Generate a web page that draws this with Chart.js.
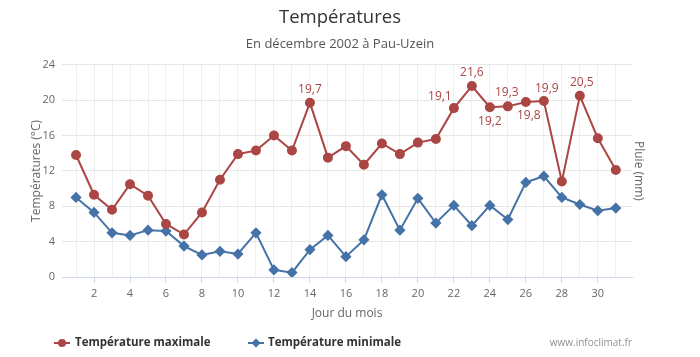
<!DOCTYPE html>
<html><head><meta charset="utf-8">
<script src="https://cdn.jsdelivr.net/npm/chart.js@4/dist/chart.umd.min.js"></script>
<style>html,body{margin:0;padding:0;background:#fff}canvas{display:block}</style>
</head><body>
<canvas id="c" width="700" height="357"></canvas>
<script>
// ---- data ----
const days = [1,2,3,4,5,6,7,8,9,10,11,12,13,14,15,16,17,18,19,20,21,22,23,24,25,26,27,28,29,30,31];
const tempMax = [13.8,9.3,7.6,10.5,9.2,6.0,4.8,7.3,11.0,13.9,14.3,16.0,14.3,19.7,13.5,14.8,12.7,15.1,13.9,15.2,15.6,19.1,21.6,19.2,19.3,19.8,19.9,10.8,20.5,15.7,12.1];
const tempMin = [9.0,7.3,5.0,4.7,5.3,5.2,3.5,2.5,2.9,2.6,5.0,0.8,0.5,3.1,4.7,2.3,4.2,9.3,5.3,8.9,6.1,8.1,5.8,8.1,6.5,10.7,11.4,9.0,8.2,7.5,7.8];
const xTickLabels = ['2','4','6','8','10','12','14','16','18','20','22','24','26','28','30'];
const yTicks = [0,4,8,12,16,20,24];
const seriesNames = ['Température maximale','Température minimale'];

// ---- styles ----
const RED = '#AA4643', BLUE = '#4572A7';
const FONT = "'Open Sans', sans-serif";
Chart.defaults.font.family = FONT;
// label placement (pixel offsets from the point) for labelled values
const labelOffsets = {14:[0,-13],22:[-14,-12],23:[0,-13],24:[0,14],25:[-1,-14],26:[3,14],27:[3,-12],29:[2,-13]};

const labelPlugin = {
  id: 'valueLabels',
  afterDatasetsDraw(chart) {
    const ctx = chart.ctx;
    const meta = chart.getDatasetMeta(0);
    ctx.save();
    ctx.font = '12px ' + FONT;
    ctx.fillStyle = RED;
    ctx.textAlign = 'center';
    ctx.textBaseline = 'middle';
    tempMax.forEach((v, i) => {
      const off = labelOffsets[days[i]];
      if (!off) return;
      const p = meta.data[i];
      ctx.fillText(v.toFixed(1).replace('.', ','), p.x + off[0], p.y + off[1]);
    });
    ctx.restore();
  }
};

function drawSymbol(ctx, x, y, color, style) {
  ctx.strokeStyle = color; ctx.lineWidth = 2;
  ctx.beginPath(); ctx.moveTo(x - 8, y); ctx.lineTo(x + 8, y); ctx.stroke();
  ctx.fillStyle = color; ctx.beginPath();
  if (style === 'circle') { ctx.arc(x, y, 4, 0, Math.PI * 2); }
  else { ctx.moveTo(x, y - 4.5); ctx.lineTo(x + 4.5, y); ctx.lineTo(x, y + 4.5); ctx.lineTo(x - 4.5, y); ctx.closePath(); }
  ctx.fill();
}

const legendPlugin = {
  id: 'bottomLegend',
  afterDraw(chart) {
    const ctx = chart.ctx;
    ctx.save();
    const y = 343;
    ctx.font = 'bold 11.5px ' + FONT;
    ctx.textBaseline = 'middle';
    ctx.textAlign = 'left';
    drawSymbol(ctx, 62, y, RED, 'circle');
    ctx.fillStyle = '#333';
    ctx.fillText(chart.data.datasets[0].label, 75, y);
    drawSymbol(ctx, 256, y, BLUE, 'diamond');
    ctx.fillStyle = '#333';
    ctx.fillText(chart.data.datasets[1].label, 268, y);
    ctx.font = '10px ' + FONT;
    ctx.fillStyle = '#909090';
    ctx.textAlign = 'right';
    ctx.fillText('www.infoclimat.fr', 632, y);
    ctx.restore();
  }
};

new Chart(document.getElementById('c'), {
  type: 'line',
  data: {
    datasets: [
      { label: seriesNames[0], data: days.map((d, i) => ({x: d, y: tempMax[i]})),
        borderColor: RED, backgroundColor: RED, borderWidth: 2,
        pointStyle: 'circle', pointRadius: 4, pointHoverRadius: 4, tension: 0 },
      { label: seriesNames[1], data: days.map((d, i) => ({x: d, y: tempMin[i]})),
        borderColor: BLUE, backgroundColor: BLUE, borderWidth: 2,
        pointStyle: 'rectRot', pointRadius: 4.2, pointHoverRadius: 4.2, tension: 0 }
    ]
  },
  options: {
    responsive: false, animation: false, devicePixelRatio: 1,
    layout: { padding: { left: 0, right: 20, top: 0, bottom: 35 } },
    plugins: {
      legend: { display: false },
      tooltip: { enabled: false },
      title: { display: true, text: 'Températures', color: '#333',
        font: { size: 18.5, weight: 'normal', family: FONT }, padding: { top: 7, bottom: 0 } },
      subtitle: { display: true, text: 'En décembre 2002 à Pau-Uzein', color: '#555',
        font: { size: 13, family: FONT }, padding: { top: 7, bottom: 13 } }
    },
    scales: {
      x: {
        type: 'linear', min: 0.22, max: 31.9,
        afterBuildTicks: s => { s.ticks = days.map(d => ({ value: d })); },
        afterFit: s => { s.height = 45; },
        ticks: { autoSkip: false, maxRotation: 0, color: '#666', font: { size: 11 }, padding: 4,
          callback: v => xTickLabels.includes(String(v)) ? String(v) : '' },
        grid: { color: '#efefef', lineWidth: 1, tickLength: 6,
          tickColor: c => (c.tick && c.tick.value % 2 === 0) ? '#ccd6eb' : 'rgba(0,0,0,0)' },
        border: { display: true, color: '#ccd6eb' },
        title: { display: true, text: 'Jour du mois', color: '#666', font: { size: 12 }, padding: { top: 4, bottom: 1 } }
      },
      y: {
        position: 'left', min: 0, max: 24,
        afterBuildTicks: s => { s.ticks = yTicks.map(v => ({ value: v })); },
        afterFit: s => { s.width = 62; },
        ticks: { color: '#666', font: { size: 11 }, padding: 7 },
        grid: { color: '#e6e6e6', drawTicks: false },
        border: { display: false },
        title: { display: true, text: 'Températures (°C)', color: '#666', font: { size: 12 }, padding: { top: 29, bottom: 0 } }
      },
      y1: {
        position: 'right', min: 0, max: 24,
        afterFit: s => { s.width = 48; },
        ticks: { display: false },
        grid: { display: false, drawTicks: false },
        border: { display: false },
        title: { display: true, text: 'Pluie (mm)', color: '#666', font: { size: 12 }, padding: { top: 34, bottom: 0 } }
      }
    }
  },
  plugins: [labelPlugin, legendPlugin]
});
</script>
</body></html>
